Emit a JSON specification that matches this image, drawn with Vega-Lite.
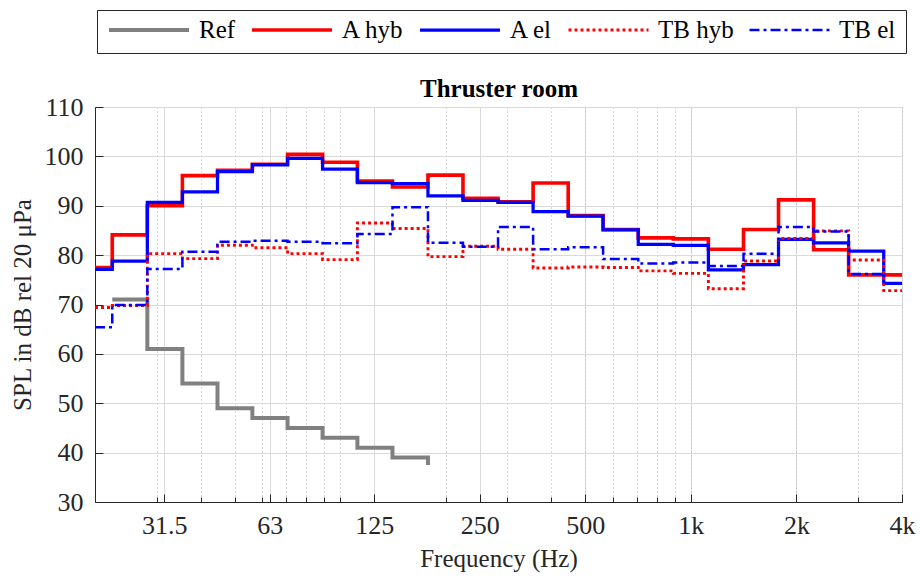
{
  "$schema": "https://vega.github.io/schema/vega-lite/v6.json",
  "width": 807,
  "height": 395,
  "autosize": "none",
  "padding": {"left": 95, "top": 107, "right": 18, "bottom": 77},
  "config": {
    "view": {"stroke": "#c8c8c8", "strokeWidth": 1},
    "font": "Liberation Serif",
    "axis": {"labelFont": "Liberation Serif", "titleFont": "Liberation Serif", "labelColor": "#262626", "titleColor": "#262626", "domainColor": "#262626", "tickColor": "#262626"}
  },
  "data": {"values": [
    {"s": "Ref", "f": 22.4, "v": 71}, {"s": "Ref", "f": 28.2, "v": 61}, {"s": "Ref", "f": 35.5, "v": 54}, {"s": "Ref", "f": 44.7, "v": 49}, {"s": "Ref", "f": 56.2, "v": 47}, {"s": "Ref", "f": 70.8, "v": 45}, {"s": "Ref", "f": 89.1, "v": 43}, {"s": "Ref", "f": 112, "v": 41}, {"s": "Ref", "f": 141, "v": 39}, {"s": "Ref", "f": 178, "v": 37.5},

    {"s": "A hyb", "f": 20, "v": 77.5}, {"s": "A hyb", "f": 22.4, "v": 84.1}, {"s": "A hyb", "f": 28.2, "v": 90.0}, {"s": "A hyb", "f": 35.5, "v": 96.1}, {"s": "A hyb", "f": 44.7, "v": 97.2}, {"s": "A hyb", "f": 56.2, "v": 98.4}, {"s": "A hyb", "f": 70.8, "v": 100.4}, {"s": "A hyb", "f": 89.1, "v": 98.8}, {"s": "A hyb", "f": 112, "v": 95.0}, {"s": "A hyb", "f": 141, "v": 93.8}, {"s": "A hyb", "f": 178, "v": 96.2}, {"s": "A hyb", "f": 224, "v": 91.5}, {"s": "A hyb", "f": 282, "v": 90.8}, {"s": "A hyb", "f": 355, "v": 94.6}, {"s": "A hyb", "f": 447, "v": 88.0}, {"s": "A hyb", "f": 562, "v": 85.2}, {"s": "A hyb", "f": 708, "v": 83.5}, {"s": "A hyb", "f": 891, "v": 83.3}, {"s": "A hyb", "f": 1122, "v": 81.2}, {"s": "A hyb", "f": 1413, "v": 85.2}, {"s": "A hyb", "f": 1778, "v": 91.2}, {"s": "A hyb", "f": 2239, "v": 81.1}, {"s": "A hyb", "f": 2818, "v": 76.0}, {"s": "A hyb", "f": 3548, "v": 76.0}, {"s": "A hyb", "f": 4000, "v": 76.0},

    {"s": "A el", "f": 20, "v": 77.1}, {"s": "A el", "f": 22.4, "v": 78.8}, {"s": "A el", "f": 28.2, "v": 90.7}, {"s": "A el", "f": 35.5, "v": 92.8}, {"s": "A el", "f": 44.7, "v": 96.9}, {"s": "A el", "f": 56.2, "v": 98.3}, {"s": "A el", "f": 70.8, "v": 99.6}, {"s": "A el", "f": 89.1, "v": 97.4}, {"s": "A el", "f": 112, "v": 94.7}, {"s": "A el", "f": 141, "v": 94.5}, {"s": "A el", "f": 178, "v": 92.0}, {"s": "A el", "f": 224, "v": 91.1}, {"s": "A el", "f": 282, "v": 90.7}, {"s": "A el", "f": 355, "v": 88.8}, {"s": "A el", "f": 447, "v": 87.9}, {"s": "A el", "f": 562, "v": 85.1}, {"s": "A el", "f": 708, "v": 82.2}, {"s": "A el", "f": 891, "v": 82.0}, {"s": "A el", "f": 1122, "v": 77.0}, {"s": "A el", "f": 1413, "v": 78.1}, {"s": "A el", "f": 1778, "v": 83.2}, {"s": "A el", "f": 2239, "v": 82.5}, {"s": "A el", "f": 2818, "v": 80.8}, {"s": "A el", "f": 3548, "v": 74.3}, {"s": "A el", "f": 4000, "v": 74.3},

    {"s": "TB hyb", "f": 20, "v": 69.4}, {"s": "TB hyb", "f": 22.4, "v": 69.8}, {"s": "TB hyb", "f": 28.2, "v": 80.3}, {"s": "TB hyb", "f": 35.5, "v": 79.3}, {"s": "TB hyb", "f": 44.7, "v": 82.0}, {"s": "TB hyb", "f": 56.2, "v": 81.5}, {"s": "TB hyb", "f": 70.8, "v": 80.3}, {"s": "TB hyb", "f": 89.1, "v": 79.1}, {"s": "TB hyb", "f": 112, "v": 86.5}, {"s": "TB hyb", "f": 141, "v": 85.4}, {"s": "TB hyb", "f": 178, "v": 79.7}, {"s": "TB hyb", "f": 224, "v": 81.8}, {"s": "TB hyb", "f": 282, "v": 81.2}, {"s": "TB hyb", "f": 355, "v": 77.4}, {"s": "TB hyb", "f": 447, "v": 77.6}, {"s": "TB hyb", "f": 562, "v": 77.5}, {"s": "TB hyb", "f": 708, "v": 76.8}, {"s": "TB hyb", "f": 891, "v": 76.3}, {"s": "TB hyb", "f": 1122, "v": 73.2}, {"s": "TB hyb", "f": 1413, "v": 78.8}, {"s": "TB hyb", "f": 1778, "v": 83.4}, {"s": "TB hyb", "f": 2239, "v": 84.9}, {"s": "TB hyb", "f": 2818, "v": 79.0}, {"s": "TB hyb", "f": 3548, "v": 72.8}, {"s": "TB hyb", "f": 4000, "v": 72.8},

    {"s": "TB el", "f": 20, "v": 65.4}, {"s": "TB el", "f": 22.4, "v": 69.9}, {"s": "TB el", "f": 28.2, "v": 77.2}, {"s": "TB el", "f": 35.5, "v": 80.7}, {"s": "TB el", "f": 44.7, "v": 82.7}, {"s": "TB el", "f": 56.2, "v": 82.9}, {"s": "TB el", "f": 70.8, "v": 82.7}, {"s": "TB el", "f": 89.1, "v": 82.4}, {"s": "TB el", "f": 112, "v": 84.3}, {"s": "TB el", "f": 141, "v": 89.7}, {"s": "TB el", "f": 178, "v": 82.5}, {"s": "TB el", "f": 224, "v": 81.7}, {"s": "TB el", "f": 282, "v": 85.7}, {"s": "TB el", "f": 355, "v": 81.2}, {"s": "TB el", "f": 447, "v": 81.6}, {"s": "TB el", "f": 562, "v": 79.2}, {"s": "TB el", "f": 708, "v": 78.3}, {"s": "TB el", "f": 891, "v": 78.5}, {"s": "TB el", "f": 1122, "v": 77.8}, {"s": "TB el", "f": 1413, "v": 80.3}, {"s": "TB el", "f": 1778, "v": 85.7}, {"s": "TB el", "f": 2239, "v": 84.8}, {"s": "TB el", "f": 2818, "v": 76.2}, {"s": "TB el", "f": 3548, "v": 76.2}
  ]},
  "encoding": {
    "y": {"field": "v", "type": "quantitative", "scale": {"domain": [30, 110], "nice": false, "zero": false},
      "axis": {"values": [30, 40, 50, 60, 70, 80, 90, 100, 110], "title": "SPL in dB rel 20 μPa", "grid": true, "gridColor": "#dadada", "gridWidth": 1, "tickSize": -8, "labelPadding": 20, "labelFontSize": 26, "titleFontSize": 25, "titleFontWeight": "normal", "titlePadding": 9}},
    "color": {"field": "s", "type": "nominal",
      "scale": {"domain": ["Ref", "A hyb", "A el", "TB hyb", "TB el"], "range": ["#808080", "#ff0000", "#0000ff", "#ff0000", "#0000ff"]},
      "legend": {"orient": "none", "legendX": 2, "legendY": -97, "direction": "horizontal", "title": null, "symbolType": "stroke", "symbolSize": 6400, "clipHeight": 20, "labelFont": "Liberation Serif", "labelFontSize": 25, "labelColor": "#000000", "labelOffset": 8, "columnPadding": 14, "padding": 10, "strokeColor": "#262626", "fillColor": "#ffffff", "labelLimit": 200}},
    "strokeDash": {"field": "s", "type": "nominal",
      "scale": {"domain": ["Ref", "A hyb", "A el", "TB hyb", "TB el"], "range": [[1, 0], [1, 0], [1, 0], [3, 3], [10, 4, 3, 4]]},
      "legend": {"orient": "none", "legendX": 2, "legendY": -97, "direction": "horizontal", "title": null, "symbolType": "stroke", "symbolSize": 6400, "clipHeight": 20, "labelFont": "Liberation Serif", "labelFontSize": 25, "labelColor": "#000000", "labelOffset": 8, "columnPadding": 14, "padding": 10, "strokeColor": "#262626", "fillColor": "#ffffff", "labelLimit": 200}},
    "strokeWidth": {"field": "s", "type": "nominal",
      "scale": {"domain": ["Ref", "A hyb", "A el", "TB hyb", "TB el"], "range": [4, 2.5, 2.5, 2.5, 2]},
      "legend": {"orient": "none", "legendX": 2, "legendY": -97, "direction": "horizontal", "title": null, "symbolType": "stroke", "symbolSize": 6400, "clipHeight": 20, "labelFont": "Liberation Serif", "labelFontSize": 25, "labelColor": "#000000", "labelOffset": 8, "columnPadding": 14, "padding": 10, "strokeColor": "#262626", "fillColor": "#ffffff", "labelLimit": 200}}
  },
  "layer": [
    {
      "transform": [{"filter": "datum.s === 'Ref'"}],
      "mark": {"type": "line", "interpolate": "step-after", "strokeJoin": "miter", "strokeCap": "butt"},
      "encoding": {
        "x": {"field": "f", "type": "quantitative", "scale": {"type": "log", "domain": [20, 4000], "nice": false},
          "axis": {"orient": "bottom", "values": [31.5, 63, 125, 250, 500, 1000, 2000, 4000], "labelExpr": "datum.value >= 1000 ? (datum.value / 1000) + 'k' : '' + datum.value", "title": "Frequency (Hz)", "grid": true, "gridColor": "#dadada", "gridWidth": 1, "tickSize": -8, "labelPadding": 18, "labelFontSize": 26, "labelFlush": false, "labelOverlap": false, "titleFontSize": 25, "titleFontWeight": "normal", "titlePadding": 8}}
      }
    },
    {
      "transform": [{"filter": "datum.s === 'A hyb' || datum.s === 'A el'"}],
      "mark": {"type": "line", "interpolate": "step-after", "strokeJoin": "miter", "strokeCap": "butt"},
      "encoding": {
        "x": {"field": "f", "type": "quantitative", "scale": {"type": "log", "domain": [20, 4000], "nice": false},
          "axis": {"orient": "bottom", "values": [30, 40, 50, 60, 70, 80, 90, 100, 200, 300, 400, 500, 600, 700, 800, 900, 1000, 2000, 3000, 4000], "labels": false, "domain": false, "title": null, "grid": true, "gridColor": "#b4b4b4", "gridDash": [1, 3], "gridWidth": 1, "tickSize": -5}}
      }
    },
    {
      "transform": [{"filter": "datum.s === 'TB hyb' || datum.s === 'TB el'"}],
      "mark": {"type": "line", "interpolate": "step-after", "strokeJoin": "miter", "strokeCap": "butt"},
      "encoding": {
        "x": {"field": "f", "type": "quantitative", "scale": {"type": "log", "domain": [20, 4000], "nice": false},
          "axis": {"orient": "top", "title": "Thruster room", "labels": false, "ticks": false, "domain": false, "grid": false, "titleFontSize": 25, "titleFontWeight": "bold", "titleColor": "#000000", "titlePadding": 6}}
      }
    }
  ],
  "resolve": {"axis": {"x": "independent"}}
}
